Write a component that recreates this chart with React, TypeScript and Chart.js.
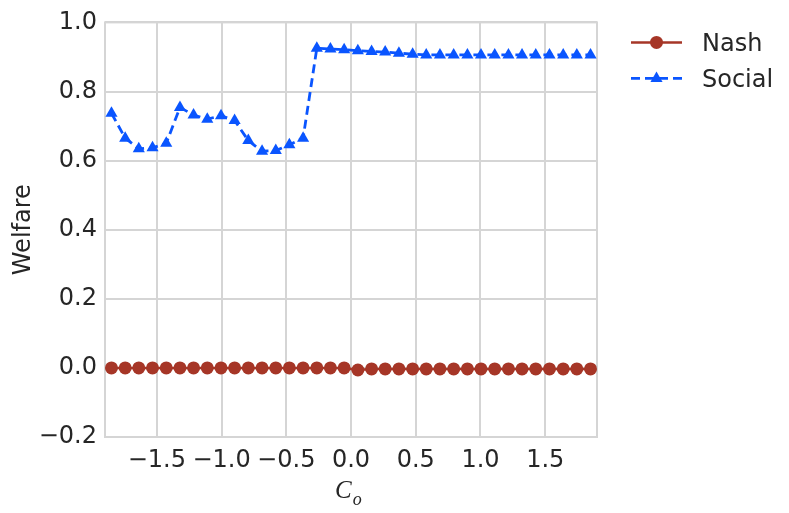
import React, { useEffect, useRef } from 'react';
import { Chart, registerables } from 'chart.js';
import { drawPoint } from 'chart.js/helpers';

Chart.register(...registerables);

const xValues = [
  -1.85, -1.744, -1.639, -1.533, -1.427, -1.321, -1.216, -1.11, -1.004, -0.899, -0.793, -0.687,
  -0.581, -0.476, -0.37, -0.264, -0.159, -0.053, 0.053, 0.159, 0.264, 0.37, 0.476, 0.581,
  0.687, 0.793, 0.899, 1.004, 1.11, 1.216, 1.321, 1.427, 1.533, 1.639, 1.744, 1.85,
];

const nashValues = [
  0.0, 0.0, 0.0, 0.0, 0.0, 0.0, 0.0, 0.0, 0.0, 0.0, 0.0, 0.0,
  0.0, 0.0, 0.0, 0.0, 0.0, 0.0, -0.006, -0.003, -0.003, -0.003, -0.003, -0.003,
  -0.003, -0.003, -0.003, -0.003, -0.003, -0.003, -0.003, -0.003, -0.003, -0.003, -0.003, -0.003,
];

const socialValues = [
  0.737, 0.665, 0.634, 0.637, 0.65, 0.754, 0.732, 0.72, 0.73, 0.716, 0.658, 0.627,
  0.629, 0.646, 0.665, 0.925, 0.923, 0.921, 0.918, 0.916, 0.914, 0.911, 0.908, 0.906,
  0.906, 0.906, 0.906, 0.906, 0.906, 0.906, 0.906, 0.906, 0.906, 0.906, 0.906, 0.906,
];

const xTicks = [-1.5, -1.0, -0.5, 0.0, 0.5, 1.0, 1.5];
const yTicks = [-0.2, 0.0, 0.2, 0.4, 0.6, 0.8, 1.0];
const seriesNames = ['Nash', 'Social'];
const yTitle = 'Welfare';
const xTitleMain = 'C';
const xTitleSub = 'o';

const TEXT = '#262626';
const GRID = '#d5d5d5';
const FONT = 'DejaVu Sans';

const fmt = (v: number) => {
  const s = Math.abs(v) < 1e-9 ? '0.0' : v.toFixed(1);
  return s.replace('-', '\u2212');
};

export default function App() {
  const ref = useRef<HTMLCanvasElement>(null);

  useEffect(() => {
    document.body.style.margin = '0';
    const canvas = ref.current;
    if (!canvas) return;

    const framePlugin = {
      id: 'frame',
      beforeDatasetsDraw(chart: any) {
        const { ctx, chartArea: a } = chart;
        ctx.save();
        ctx.strokeStyle = GRID;
        ctx.lineWidth = 2;
        ctx.strokeRect(a.left, a.top, a.right - a.left, a.bottom - a.top);
        ctx.restore();
      },
    };

    const xTitlePlugin = {
      id: 'xtitle',
      afterDraw(chart: any) {
        const { ctx, chartArea: a } = chart;
        const cx = (a.left + a.right) / 2;
        ctx.save();
        ctx.fillStyle = TEXT;
        ctx.textBaseline = 'alphabetic';
        ctx.textAlign = 'left';
        ctx.font = 'italic 25px "Liberation Serif"';
        const w = ctx.measureText(xTitleMain).width;
        const x0 = cx - 16;
        ctx.fillText(xTitleMain, x0, 498);
        ctx.font = 'italic 18px "Liberation Serif"';
        ctx.fillText(xTitleSub, x0 + w + 1, 505);
        ctx.restore();
      },
    };

    const legendPlugin = {
      id: 'customLegend',
      afterDraw(chart: any) {
        const { ctx, chartArea: a } = chart;
        chart.data.datasets.forEach((ds: any, i: number) => {
          const y = a.top + 20 + i * 36;
          const x0 = a.right + 34;
          const x1 = a.right + 85;
          ctx.save();
          ctx.strokeStyle = ds.borderColor;
          ctx.lineWidth = ds.borderWidth;
          ctx.setLineDash(ds.borderDash || []);
          ctx.beginPath();
          ctx.moveTo(x0, y);
          ctx.lineTo(x1, y);
          ctx.stroke();
          ctx.setLineDash([]);
          ctx.fillStyle = ds.pointBackgroundColor;
          drawPoint(ctx, { pointStyle: ds.pointStyle, radius: ds.pointRadius, borderWidth: 0, rotation: 0 } as any, (x0 + x1) / 2, y);
          ctx.fillStyle = TEXT;
          ctx.font = `24px "${FONT}"`;
          ctx.textAlign = 'left';
          ctx.textBaseline = 'alphabetic';
          ctx.fillText(ds.label, a.right + 105, y + 8.2);
          ctx.restore();
        });
      },
    };

    const chart = new Chart(canvas, {
      type: 'line',
      data: {
        datasets: [
          {
            label: seriesNames[0],
            data: xValues.map((x, i) => ({ x, y: nashValues[i] })),
            borderColor: '#a63627',
            backgroundColor: '#a63627',
            pointBackgroundColor: '#a63627',
            pointBorderWidth: 0,
            borderWidth: 2.5,
            pointStyle: 'circle',
            pointRadius: 6.5,
            tension: 0,
            clip: false as any,
          },
          {
            label: seriesNames[1],
            data: xValues.map((x, i) => ({ x, y: socialValues[i] })),
            borderColor: '#0a55ff',
            backgroundColor: '#0a55ff',
            pointBackgroundColor: '#0a55ff',
            pointBorderWidth: 0,
            borderWidth: 2.8,
            borderDash: [9, 5],
            pointStyle: 'triangle',
            pointRadius: 7,
            tension: 0,
            clip: false as any,
          },
        ] as any,
      },
      options: {
        animation: false,
        responsive: false,
        maintainAspectRatio: false,
        layout: { padding: { left: 0, top: 21, right: 192, bottom: 0 } },
        plugins: { legend: { display: false }, tooltip: { enabled: false } },
        scales: {
          x: {
            type: 'linear',
            min: -1.9,
            max: 1.9,
            afterBuildTicks: (s: any) => {
              s.ticks = xTicks.map((v) => ({ value: v }));
            },
            afterFit: (s: any) => {
              s.height = 76;
            },
            grid: { color: GRID, lineWidth: 2, drawTicks: false },
            border: { display: false },
            ticks: {
              padding: 9,
              color: TEXT,
              font: { family: FONT, size: 24 },
              maxRotation: 0,
              autoSkip: false,
              callback: (v: any) => fmt(Number(v)),
            },
          },
          y: {
            type: 'linear',
            min: -0.2,
            max: 1.0,
            afterBuildTicks: (s: any) => {
              s.ticks = yTicks.map((v) => ({ value: v }));
            },
            afterFit: (s: any) => {
              s.width = 105;
            },
            grid: { color: GRID, lineWidth: 2, drawTicks: false },
            border: { display: false },
            ticks: {
              padding: 8,
              color: TEXT,
              font: { family: FONT, size: 24 },
              autoSkip: false,
              callback: (v: any) => fmt(Number(v)),
            },
            title: {
              display: true,
              text: yTitle,
              color: TEXT,
              font: { family: FONT, size: 24 },
              padding: { top: 9, bottom: 0 },
            },
          },
        },
      } as any,
      plugins: [framePlugin, xTitlePlugin, legendPlugin],
    });

    return () => chart.destroy();
  }, []);

  return (
    <div style={{ width: 789, height: 513, background: '#fff' }}>
      <canvas ref={ref} width={789} height={513} style={{ display: 'block' }} />
    </div>
  );
}
